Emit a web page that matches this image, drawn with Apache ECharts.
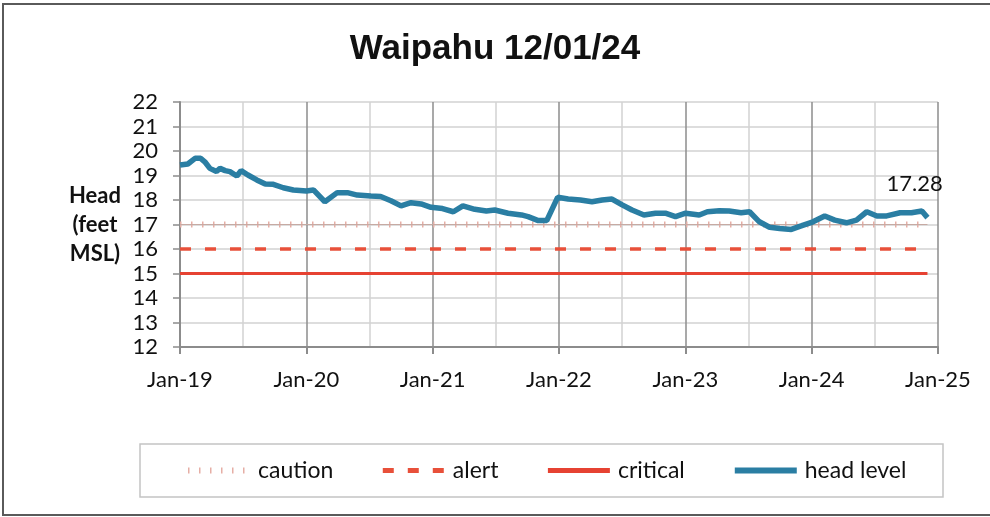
<!DOCTYPE html>
<html>
<head>
<meta charset="utf-8">
<script src="https://cdn.jsdelivr.net/npm/echarts@6/dist/echarts.min.js"></script>
<style>
  html, body { margin: 0; padding: 0; background: #ffffff; }
  #chart { width: 990px; height: 517px; }
</style>
</head>
<body>
<div id="chart"></div>
<script>
// head level readings (date, feet MSL)
var headDates = [
  '2019-01-01', '2019-01-24', '2019-02-13', '2019-02-28', '2019-03-12', '2019-03-27',
  '2019-04-15', '2019-04-25', '2019-05-10', '2019-05-24', '2019-06-13', '2019-06-25',
  '2019-07-15', '2019-08-10', '2019-09-04', '2019-09-27', '2019-10-26', '2019-11-24',
  '2020-01-01', '2020-01-22', '2020-02-23', '2020-03-30', '2020-04-28', '2020-05-27',
  '2020-07-05', '2020-08-03', '2020-09-02', '2020-10-01', '2020-10-30', '2020-11-28',
  '2020-12-27', '2021-01-30', '2021-02-28', '2021-03-28', '2021-05-01', '2021-06-04',
  '2021-06-28', '2021-08-06', '2021-09-14', '2021-10-03', '2021-11-02', '2021-11-26',
  '2021-12-28', '2022-01-28', '2022-03-02', '2022-04-05', '2022-05-04', '2022-06-02',
  '2022-07-01', '2022-07-30', '2022-09-03', '2022-10-06', '2022-11-04', '2022-12-03',
  '2023-01-02', '2023-02-10', '2023-03-04', '2023-04-08', '2023-05-06', '2023-06-10',
  '2023-07-04', '2023-08-02', '2023-09-01', '2023-09-30', '2023-11-03', '2023-12-01',
  '2024-01-05', '2024-02-08', '2024-03-07', '2024-04-10', '2024-05-09', '2024-06-08',
  '2024-07-07', '2024-08-05', '2024-09-13', '2024-10-16', '2024-11-15', '2024-12-01'
];
var headValues = [
  19.43, 19.47, 19.70, 19.70, 19.56, 19.29,
  19.16, 19.29, 19.20, 19.16, 18.98, 19.20,
  19.02, 18.82, 18.65, 18.64, 18.50, 18.41,
  18.37, 18.41, 17.93, 18.30, 18.30, 18.20,
  18.16, 18.14, 17.97, 17.76, 17.89, 17.84,
  17.70, 17.65, 17.52, 17.76, 17.62, 17.55,
  17.59, 17.46, 17.39, 17.32, 17.16, 17.16,
  18.11, 18.04, 18.00, 17.93, 18.00, 18.04,
  17.80, 17.59, 17.39, 17.46, 17.46, 17.32,
  17.46, 17.39, 17.52, 17.56, 17.55, 17.48,
  17.52, 17.11, 16.89, 16.84, 16.80, 16.94,
  17.11, 17.35, 17.18, 17.07, 17.18, 17.52,
  17.35, 17.35, 17.48, 17.48, 17.55, 17.28
];

// threshold levels
var thresholdDates = ['2019-01-01', '2024-12-01'];
var cautionLevel = 17;
var alertLevel = 16;
var criticalLevel = 15;

var xTickLabels = ['Jan-19', 'Jan-20', 'Jan-21', 'Jan-22', 'Jan-23', 'Jan-24', 'Jan-25'];
var yTicks = [12, 13, 14, 15, 16, 17, 18, 19, 20, 21, 22];

// months since Jan 2019
function toMonths(s) {
  var p = s.split('-').map(Number);
  var dim = new Date(p[0], p[1], 0).getDate();
  return (p[0] - 2019) * 12 + (p[1] - 1) + (p[2] - 1) / dim;
}

function levelData(v) {
  return thresholdDates.map(function (d) { return [toMonths(d), v]; });
}

var headData = headDates.map(function (d, i) { return [toMonths(d), headValues[i]]; });

var chart = echarts.init(document.getElementById('chart'));

var option = {
  animation: false,
  backgroundColor: '#ffffff',
  title: {
    text: 'Waipahu 12/01/24',
    left: 'center',
    top: 27,
    textStyle: {
      fontFamily: 'Liberation Sans',
      fontWeight: 'bold',
      fontSize: 35,
      color: '#111'
    }
  },
  graphic: [
    {
      type: 'rect',
      shape: { x: 3, y: 4, width: 1000, height: 511 },
      style: { fill: 'none', stroke: '#5a5a5a', lineWidth: 2 },
      silent: true
    },
    {
      type: 'rect',
      shape: { x: 140, y: 444, width: 803, height: 53 },
      style: { fill: 'none', stroke: '#c4c4c4', lineWidth: 1.5 },
      silent: true
    }
  ],
  legend: {
    left: 180,
    top: 454,
    itemWidth: 62,
    itemHeight: 14,
    itemGap: 47,
    itemStyle: { opacity: 0 },
    textStyle: { fontFamily: 'Lato', fontSize: 23, color: '#111', padding: [0, 0, 0, 3] },
    data: [
      { name: 'caution', lineStyle: { width: 6 } },
      { name: 'alert', lineStyle: { width: 5 } },
      { name: 'critical', lineStyle: { width: 5 } },
      { name: 'head level', lineStyle: { width: 6 } }
    ]
  },
  grid: {
    left: 180,
    right: 52,
    top: 102,
    bottom: 170
  },
  xAxis: {
    type: 'value',
    min: 0,
    max: 72,
    interval: 12,
    axisLine: { lineStyle: { color: '#8c8c8c', width: 2 } },
    axisTick: { show: true, length: 7, lineStyle: { color: '#8c8c8c', width: 2 } },
    axisLabel: {
      margin: 22,
      fontFamily: 'Lato',
      fontSize: 22,
      color: '#111',
      formatter: function (v) { return xTickLabels[Math.round(v / 12)]; }
    },
    splitLine: { show: true, lineStyle: { color: '#8c8c8c', width: 1.5 } },
    minorTick: { show: false, splitNumber: 2 },
    minorSplitLine: { show: true, lineStyle: { color: '#d2d2d2', width: 1.5 } }
  },
  yAxis: {
    type: 'value',
    min: yTicks[0],
    max: yTicks[yTicks.length - 1],
    interval: 1,
    name: 'Head\n(feet\nMSL)',
    nameLocation: 'middle',
    nameRotate: 0,
    nameGap: 85,
    nameTextStyle: {
      fontFamily: 'Lato',
      fontWeight: 'bold',
      fontSize: 22,
      lineHeight: 29,
      color: '#111',
      align: 'center',
      verticalAlign: 'middle'
    },
    axisLine: { show: true, lineStyle: { color: '#8c8c8c', width: 2 } },
    axisTick: { show: true, length: 7, lineStyle: { color: '#8c8c8c', width: 1.5 } },
    axisLabel: { margin: 22, fontFamily: 'Lato', fontSize: 22, color: '#111' },
    splitLine: { show: true, lineStyle: { color: '#d2d2d2', width: 1.5 } }
  },
  series: [
    {
      name: 'caution',
      type: 'line',
      symbol: 'none',
      data: levelData(cautionLevel),
      lineStyle: { color: '#e6aea5', width: 6, type: [1.5, 9.5] },
      itemStyle: { color: '#e6aea5' },
      z: 2
    },
    {
      name: 'caution',
      type: 'line',
      symbol: 'none',
      data: levelData(cautionLevel),
      lineStyle: { color: '#c7aaa3', width: 1.2 },
      itemStyle: { color: '#c7aaa3' },
      z: 2
    },
    {
      name: 'alert',
      type: 'line',
      symbol: 'none',
      data: levelData(alertLevel),
      lineStyle: { color: '#e8503a', width: 3.5, type: [11, 14] },
      itemStyle: { color: '#e8503a' },
      z: 3
    },
    {
      name: 'critical',
      type: 'line',
      symbol: 'none',
      data: levelData(criticalLevel),
      lineStyle: { color: '#e64232', width: 3 },
      itemStyle: { color: '#e64232' },
      z: 3
    },
    {
      name: 'head level',
      type: 'line',
      symbol: 'none',
      data: headData,
      lineStyle: { color: '#2a7ea3', width: 5.5 },
      itemStyle: { color: '#2a7ea3' },
      endLabel: {
        show: true,
        offset: [-49, -34],
        fontFamily: 'Lato',
        fontSize: 22,
        color: '#111',
        formatter: function (p) { return p.value[1].toFixed(2); }
      },
      z: 4
    }
  ]
};

chart.setOption(option);
window.onresize = function () {
  chart.resize();
};
</script>
</body>
</html>
